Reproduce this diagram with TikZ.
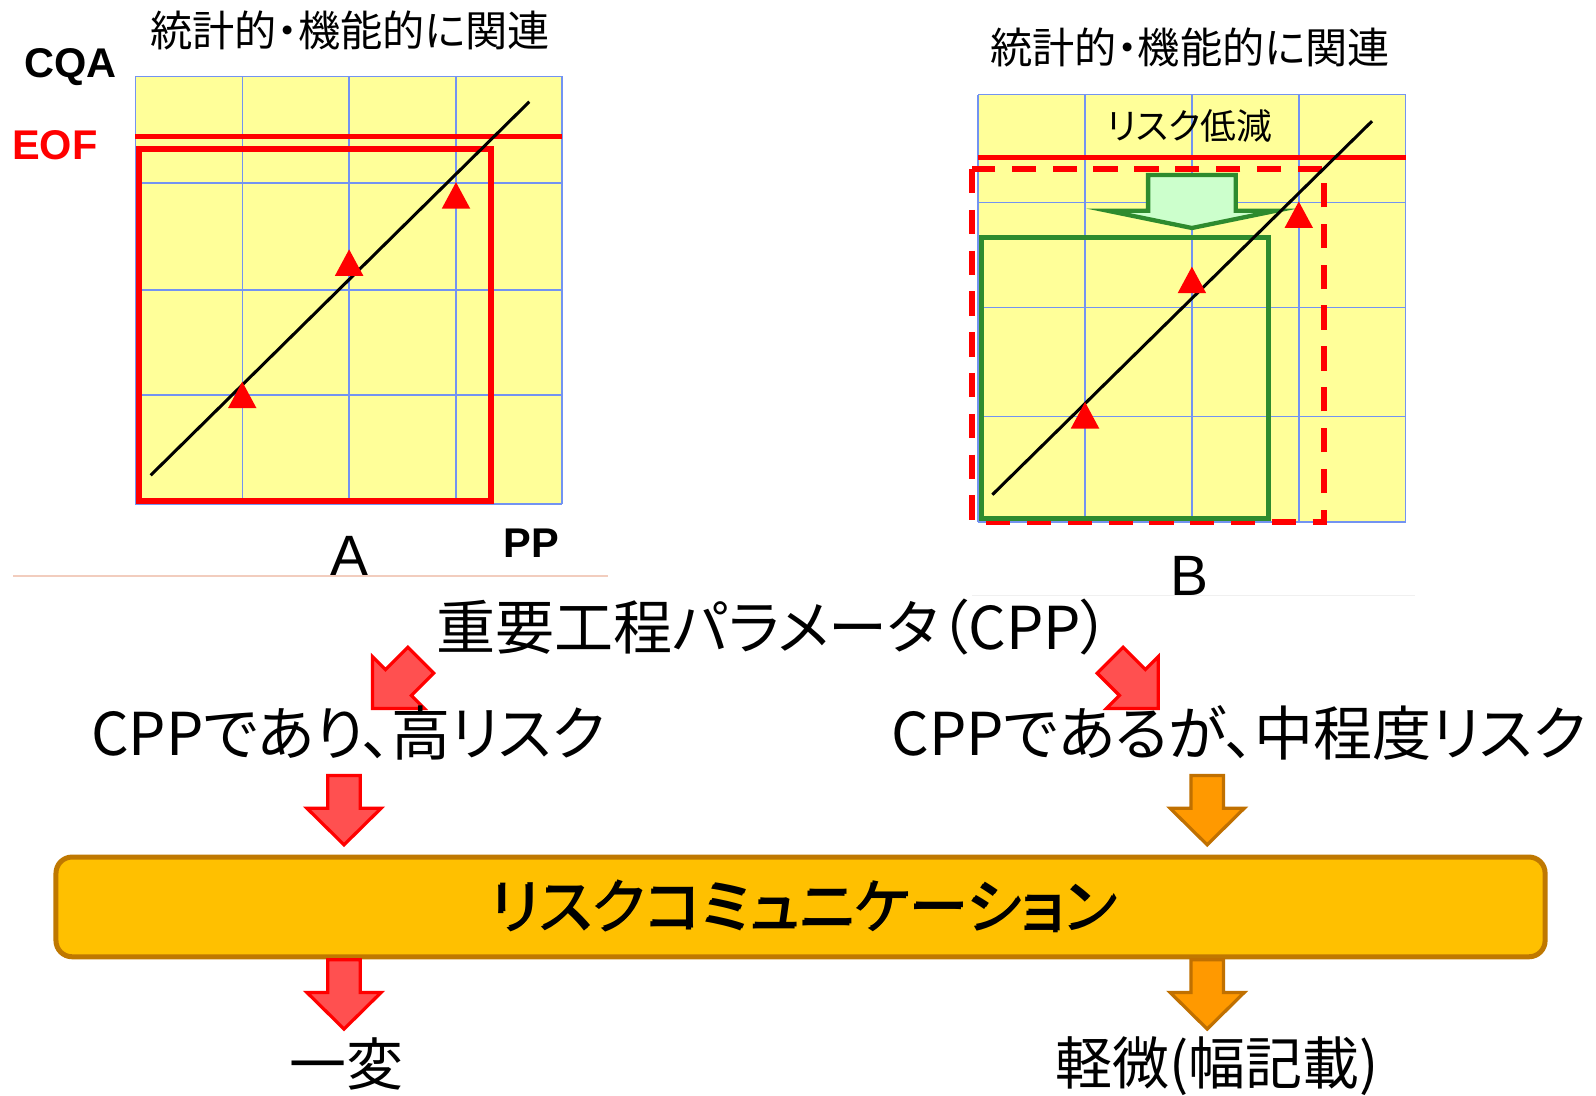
\documentclass[tikz,border=0pt]{standalone}
\usepackage{fontspec}
\setmainfont{Liberation Sans}
\newfontfamily\jp[RawFeature=+palt]{Noto Sans CJK JP}
\definecolor{chartyellow}{HTML}{FFFF99}
\definecolor{gridblue}{HTML}{7393F2}
\definecolor{okgreen}{HTML}{2E8B2E}
\definecolor{palegreen}{HTML}{CCFFCC}
\definecolor{arrowred}{HTML}{FF5050}
\definecolor{arroworange}{HTML}{FF9900}
\definecolor{arroworangeline}{HTML}{C07000}
\definecolor{boxgold}{HTML}{FFC000}
\definecolor{boxgoldline}{HTML}{BF7800}
\definecolor{sepline}{HTML}{F2CDBE}
\newcommand\blockarrow[8]{%
  \draw[#1, shift={(#2,#3)}, rotate=#4] (0,0) -- (-#5,#6) -- (-#5,#7) -- (-#8,#7) -- (-#8,-#7) -- (-#5,-#7) -- (-#5,-#6) -- cycle;}
\newcommand\tri[2]{\fill[trimark] (#1,#2) -- ++(-14,26) -- ++(28,0) -- cycle;}
\begin{document}
\begin{tikzpicture}[x=0.01cm, y=-0.01cm,
  every node/.style={inner sep=0pt, outer sep=0pt},
  gridline/.style={draw=gridblue, line width=0.4pt},
  diagline/.style={draw=black, line width=0.85pt},
  eofline/.style={draw=red, line width=1.4pt},
  redbox/.style={draw=red, line width=1.7pt},
  reddash/.style={draw=red, line width=1.7pt, dash pattern=on 6.8pt off 4.6pt},
  greenbox/.style={draw=okgreen, line width=1.4pt},
  trimark/.style={fill=red},
  redarrow/.style={fill=arrowred, draw=red, line width=0.9pt, line join=miter},
  orangearrow/.style={fill=arroworange, draw=arroworangeline, line width=0.9pt, line join=miter},
  greenarrow/.style={fill=palegreen, draw=okgreen, line width=1.2pt, line join=miter},
  jptitle/.style={font=\jp\fontsize{11.8pt}{14pt}\selectfont},
  jpsmall/.style={font=\jp\fontsize{10pt}{12pt}\selectfont},
  jpbig/.style={font=\jp\fontsize{16.5pt}{19pt}\selectfont},
  jpmid/.style={font=\jp\fontsize{15.9pt}{19pt}\selectfont},
  axislabel/.style={font=\bfseries\fontsize{11.6pt}{13pt}\selectfont},
  chartlabel/.style={font=\fontsize{15.9pt}{19pt}\selectfont}]
\useasboundingbox (0,0) rectangle (1568,1076);

% ---------- chart A ----------
\fill[chartyellow] (133,75) rectangle (552,495);
\foreach \x in {133,238,343,448,552} \draw[gridline] (\x,75) -- (\x,495);
\foreach \y in {75,180,285,388,495} \draw[gridline] (133,\y) -- (552,\y);
\draw[eofline] (133,134) -- (552,134);
\draw[redbox] (137,146) rectangle (482,492);
\draw[diagline] (148,467) -- (520,100);
\tri{238}{375}
\tri{343}{245}
\tri{448}{179}
\node[jptitle] (titleA) at (344,30) {統計的・機能的に関連};
\node[axislabel] (cqa) at (69,66) {CQA};
\node[axislabel, text=red] (eof) at (54,143) {EOF};
\node[axislabel] (pp) at (522,534) {PP};
\node[chartlabel] (labA) at (343,546) {A};
\draw[sepline, line width=0.5pt] (13,566) -- (597,566);

% ---------- chart B ----------
\fill[chartyellow] (961,93) rectangle (1381,513);
\foreach \x in {961,1066,1171,1276,1381} \draw[gridline] (\x,93) -- (\x,513);
\foreach \y in {93,199,302,409,513} \draw[gridline] (961,\y) -- (1381,\y);
\draw[eofline] (961,155) -- (1381,155);
\draw[reddash] (955,166) rectangle (1301,513);
\draw[greenbox] (964,233) rectangle (1246,509);
\blockarrow{greenarrow}{1171}{224}{-90}{17}{83}{43}{52}
\draw[diagline] (975,486) -- (1348,119);
\tri{1066}{395}
\tri{1171}{262}
\tri{1276}{198}
\node[jptitle] (titleB) at (1169,47) {統計的・機能的に関連};
\node[jpsmall] (reduce) at (1169,124) {リスク低減};
\node[chartlabel] (labB) at (1169,566) {B};
\draw[black!6, line width=0.5pt] (955,585) -- (1390,585);

% ---------- flow ----------
\node[jpbig] (cpp) at (760,616) {重要工程パラメータ（CPP）};
\blockarrow{redarrow}{366}{696}{-135}{36}{36}{18}{67}
\blockarrow{redarrow}{1138}{696}{-45}{36}{36}{18}{67}
\node[jpbig] (high) at (342,720) {CPPであり、高リスク};
\node[jpbig] (mid) at (1217,720) {CPPであるが、中程度リスク};
\blockarrow{redarrow}{338}{830}{-90}{36}{36.5}{16}{68}
\blockarrow{orangearrow}{1186}{830}{-90}{36}{36.5}{16}{68}
\draw[fill=boxgold, draw=boxgoldline, line width=1.4pt, rounded corners=4.5pt] (55,842) rectangle (1518,940);
\node[jpbig, text=black] (commshadow) at (789,891) {リスクコミュニケーション};
\node[jpbig] (comm) at (791,889) {リスクコミュニケーション};
\blockarrow{redarrow}{338}{1011}{-90}{36}{36.5}{16}{68}
\blockarrow{orangearrow}{1186}{1011}{-90}{36}{36.5}{16}{68}
\node[jpmid] (ippen) at (340,1045) {一変};
\node[jpmid] (keibi) at (1196,1047) {軽微(幅記載)};
\end{tikzpicture}
\end{document}
